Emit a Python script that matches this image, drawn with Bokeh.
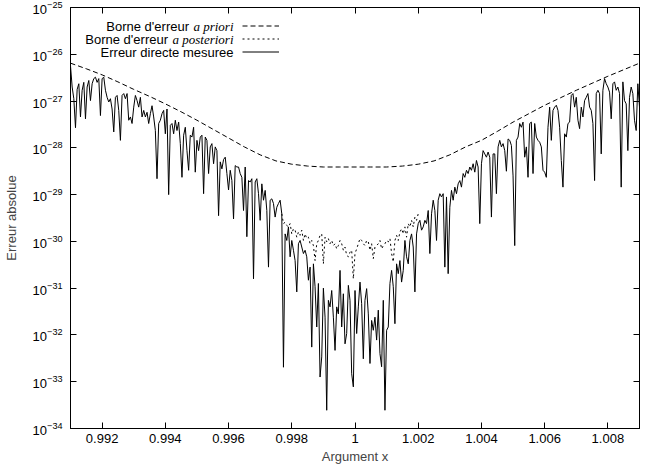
import numpy as np
from bokeh.plotting import figure
from bokeh.models import (FixedTicker, LinearAxis, LogAxis, Legend, LegendItem,
                          Label, ColumnDataSource)
from bokeh.embed import file_html
from bokeh.resources import INLINE

# ---------------- data ----------------
x_min, x_max = 0.991, 1.009
xtick_values = [0.992, 0.994, 0.996, 0.998, 1.0, 1.002, 1.004, 1.006, 1.008]
xtick_labels = ["0.992", "0.994", "0.996", "0.998", "1", "1.002", "1.004", "1.006", "1.008"]
ytick_values = [1e-34, 1e-33, 1e-32, 1e-31, 1e-30, 1e-29, 1e-28, 1e-27, 1e-26, 1e-25]

# a priori error bound (log10), sampled every 0.0005 from 0.991 to 1.009
log_prior = [-26.19, -26.31, -26.44, -26.59, -26.75, -26.90, -27.06, -27.23, -27.41,
             -27.60, -27.79, -27.98, -28.15, -28.28, -28.35, -28.39, -28.41, -28.41,
             -28.41,
             -28.41, -28.41, -28.39, -28.35, -28.28, -28.15, -27.98, -27.84, -27.65,
             -27.45, -27.27, -27.09, -26.93, -26.77, -26.62, -26.47, -26.33, -26.19]

# measured direct error (log10), uniform grid over [0.991, 1.009]
log_err_a = [-26.25, -26.70, -26.95, -27.57, -26.75, -26.63, -27.34, -26.77, -26.60, -27.38,
             -26.70, -26.56, -26.99, -26.63, -26.52, -26.49, -26.60, -26.52, -27.31, -26.52,
             -26.49, -26.77, -26.92, -27.02, -26.95, -27.17, -27.66, -26.92, -26.88, -27.20,
             -27.84, -26.88, -26.84, -26.95, -26.84, -27.41, -27.34, -27.48, -27.13, -26.88,
             -26.99, -27.13, -26.92, -27.34, -27.20, -27.34, -27.24, -27.48, -27.27, -27.10,
             -27.34, -27.63, -28.66, -27.48, -27.41, -27.27, -27.20, -27.70, -27.17, -29.00,
             -27.52, -27.48, -27.70, -27.41, -27.63, -27.45, -27.91, -28.63, -27.73, -27.56,
             -28.06, -28.48, -27.73, -27.77, -27.56, -28.52, -27.84, -28.06, -27.77, -27.73,
             -28.98, -27.77, -27.84, -28.55, -27.98, -27.91, -28.34, -27.98, -28.06]
log_err_b = [-29.45, -28.30, -28.45, -28.25, -28.20, -28.55, -28.90, -28.48, -28.70, -29.52,
             -28.38, -28.41, -28.41, -28.55, -28.63, -29.34, -28.41, -29.90, -28.70, -28.73,
             -28.66, -30.80, -28.73, -28.66, -28.98, -29.55, -28.77, -29.12, -28.91, -29.34,
             -30.55, -29.12, -29.09, -29.19, -29.48, -29.27, -29.19, -29.12, -29.41, -32.69,
             -29.84, -29.98, -29.69, -30.33, -29.98, -30.19, -30.41, -31.08, -30.05, -29.98,
             -30.12, -30.26, -30.19, -30.33, -30.83, -30.55, -32.26, -30.48, -30.97, -31.83,
             -30.90, -32.90, -32.47, -31.00, -31.62, -33.61, -31.26, -31.40, -31.05, -31.62,
             -32.33, -31.40, -31.55, -30.62, -31.83, -31.12, -32.19, -31.97, -30.94, -31.26,
             -32.83, -33.11, -31.05, -31.97]
log_err_c = [-31.40, -30.87, -31.33, -32.51, -31.26, -31.01, -31.55, -32.61, -31.69, -31.90,
             -31.62, -32.11, -31.47, -32.40, -32.68, -31.26, -33.61, -31.90, -31.83, -30.90,
             -30.62, -30.97, -31.76, -30.48, -30.69, -30.41, -30.87, -30.62, -29.98, -30.33,
             -30.48, -29.98, -29.84, -30.12, -31.08, -29.84, -29.62, -29.55, -29.76, -29.69,
             -29.55, -29.62, -29.34, -30.26, -29.41, -29.12, -29.34, -29.98, -29.12, -28.98,
             -29.05, -28.98, -30.55, -29.05, -30.69, -29.27, -28.91, -29.12, -28.84, -28.98,
             -28.77, -28.70, -28.84, -28.55, -28.63, -28.48, -28.55, -28.41, -28.48, -28.34,
             -28.52, -28.27, -28.41, -29.62, -28.34, -28.06, -28.13, -28.20, -28.09, -28.20,
             -29.48, -28.13, -28.13]
log_err_d = [-28.98, -27.98, -27.84, -27.98, -27.91, -28.06, -28.50, -27.81, -27.84, -27.95,
             -28.60, -30.09, -27.84, -27.77, -27.48, -27.56, -27.45, -28.20, -27.98, -28.63,
             -27.48, -27.45, -28.55, -27.48, -27.77, -27.84, -27.88, -27.98, -28.48, -28.52,
             -28.63, -27.56, -27.13, -27.84, -27.20, -27.13, -27.09, -27.20, -27.56, -28.27,
             -28.84, -27.70, -27.77, -27.48, -27.45, -26.88, -26.84, -27.13, -26.92, -27.41,
             -27.59, -27.13, -27.34, -26.99, -26.92, -26.84, -27.13, -27.20, -27.48, -28.70,
             -26.84, -26.77, -26.84, -28.13, -26.77, -26.52, -26.63, -26.70, -26.81, -27.38,
             -26.63, -26.59, -26.77, -26.70, -26.84, -28.84, -26.59, -26.99, -27.06, -28.06,
             -26.92, -26.70, -26.84, -27.41, -27.63, -26.63, -27.13]

# a posteriori bound (log10) where it separates from the measured error
post_start_index = 127
log_post = [-29.41, -29.62, -29.59, -29.66, -29.69, -29.62, -29.84, -29.73, -29.76, -29.91,
            -29.80, -29.87, -29.76, -29.98, -29.84, -29.94, -29.91, -30.05, -29.98, -30.09,
            -30.41, -30.05, -29.98, -29.87, -29.84, -30.48, -29.91, -30.01, -29.94, -30.05,
            -29.98, -30.09, -30.05, -30.16, -30.09, -29.98, -30.05, -30.19, -30.12, -30.30,
            -30.33, -30.23, -30.19, -30.80, -30.26, -30.16, -30.05, -29.94, -29.98, -30.05,
            -30.09, -29.98, -30.01, -30.19, -30.05, -30.37, -30.12, -30.09, -30.05, -29.98,
            -30.16, -30.09, -30.05, -29.98, -30.01, -29.94, -30.26, -30.44, -29.98, -29.87,
            -29.98, -29.80, -29.73, -29.84, -29.69, -29.91, -29.62, -29.69, -29.55, -29.69,
            -29.48, -29.55, -29.41]

log_err = log_err_a + log_err_b + log_err_c + log_err_d
x_err = np.linspace(x_min, x_max, len(log_err))
x_prior = np.linspace(x_min, x_max, len(log_prior))
x_post = x_err[post_start_index:post_start_index + len(log_post)]

src_err = ColumnDataSource(dict(x=x_err, y=10.0 ** np.array(log_err)))
src_prior = ColumnDataSource(dict(x=x_prior, y=10.0 ** np.array(log_prior)))
src_post = ColumnDataSource(dict(x=x_post, y=10.0 ** np.array(log_post)))

# ---------------- figure ----------------
FONT = "Liberation Sans"
p = figure(width=645, height=466, x_range=(x_min, x_max), y_range=(1e-34, 1e-25),
           y_axis_type="log", output_backend="svg", toolbar_location=None,
           min_border_left=68, min_border_right=6, min_border_top=7, min_border_bottom=38)
p.grid.visible = False
p.background_fill_color = "white"
p.border_fill_color = "white"
p.outline_line_color = "black"
p.outline_line_width = 1

r_prior = p.line("x", "y", source=src_prior, line_color="black", line_width=1, line_dash="5 3")
r_post = p.line("x", "y", source=src_post, line_color="black", line_width=1, line_dash="2 3")
r_err = p.line("x", "y", source=src_err, line_color="black", line_width=1)

def style_axis(ax, labels=True):
    ax.minor_tick_line_color = None
    ax.major_tick_in = 6
    ax.major_tick_out = 0
    ax.axis_line_color = "black"
    ax.major_tick_line_color = "black"
    ax.major_label_text_font = FONT
    ax.major_label_text_color = "black"
    if labels:
        ax.major_label_text_font_size = "13px"
    else:
        ax.major_label_text_font_size = "1px"
        ax.major_label_text_alpha = 0
        ax.major_label_standoff = 0

xa = p.xaxis[0]
xa.ticker = FixedTicker(ticks=xtick_values)
xa.major_label_overrides = dict(zip(xtick_values, xtick_labels))
style_axis(xa)
xa.major_label_standoff = 5
xa.axis_label = "Argument x"
xa.axis_label_text_font = FONT
xa.axis_label_text_font_size = "13px"
xa.axis_label_text_font_style = "normal"
xa.axis_label_standoff = 3

ya = p.yaxis[0]
ya.ticker = FixedTicker(ticks=ytick_values)
style_axis(ya)
ya.major_label_standoff = 8
ya.axis_label = "Erreur absolue"
ya.axis_label_text_font = FONT
ya.axis_label_text_font_size = "13px"
ya.axis_label_text_font_style = "normal"
ya.axis_label_standoff = 11

top = LinearAxis(ticker=FixedTicker(ticks=xtick_values))
style_axis(top, labels=False)
p.add_layout(top, "above")
right = LogAxis(ticker=FixedTicker(ticks=ytick_values))
style_axis(right, labels=False)
p.add_layout(right, "right")

# legend: samples on the right of right-aligned texts
legend = Legend(items=[LegendItem(label=" ", renderers=[r_prior]),
                       LegendItem(label=" ", renderers=[r_post]),
                       LegendItem(label=" ", renderers=[r_err])],
                location=(172, 370), padding=0, margin=0, spacing=0,
                glyph_width=37, glyph_height=13, label_standoff=0, label_width=0,
                label_height=13, label_text_font_size="6px",
                border_line_color=None, background_fill_alpha=0)
p.add_layout(legend)

common = dict(x_units="screen", y_units="screen", text_font_size="13px",
              text_color="black", text_baseline="middle", text_align="right")
rows_y = [402.5, 389.5, 376.5]
p.add_layout(Label(x=163, y=rows_y[0], text="a priori", text_font="Liberation Serif",
                   text_font_style="italic", **common))
p.add_layout(Label(x=118.5, y=rows_y[0], text="Borne d'erreur", text_font=FONT, **common))
p.add_layout(Label(x=163, y=rows_y[1], text="a posteriori", text_font="Liberation Serif",
                   text_font_style="italic", **common))
p.add_layout(Label(x=97.5, y=rows_y[1], text="Borne d'erreur", text_font=FONT, **common))
p.add_layout(Label(x=163, y=rows_y[2], text="Erreur directe mesuree", text_font=FONT, **common))

open("out.html", "w").write(file_html(p, INLINE))
